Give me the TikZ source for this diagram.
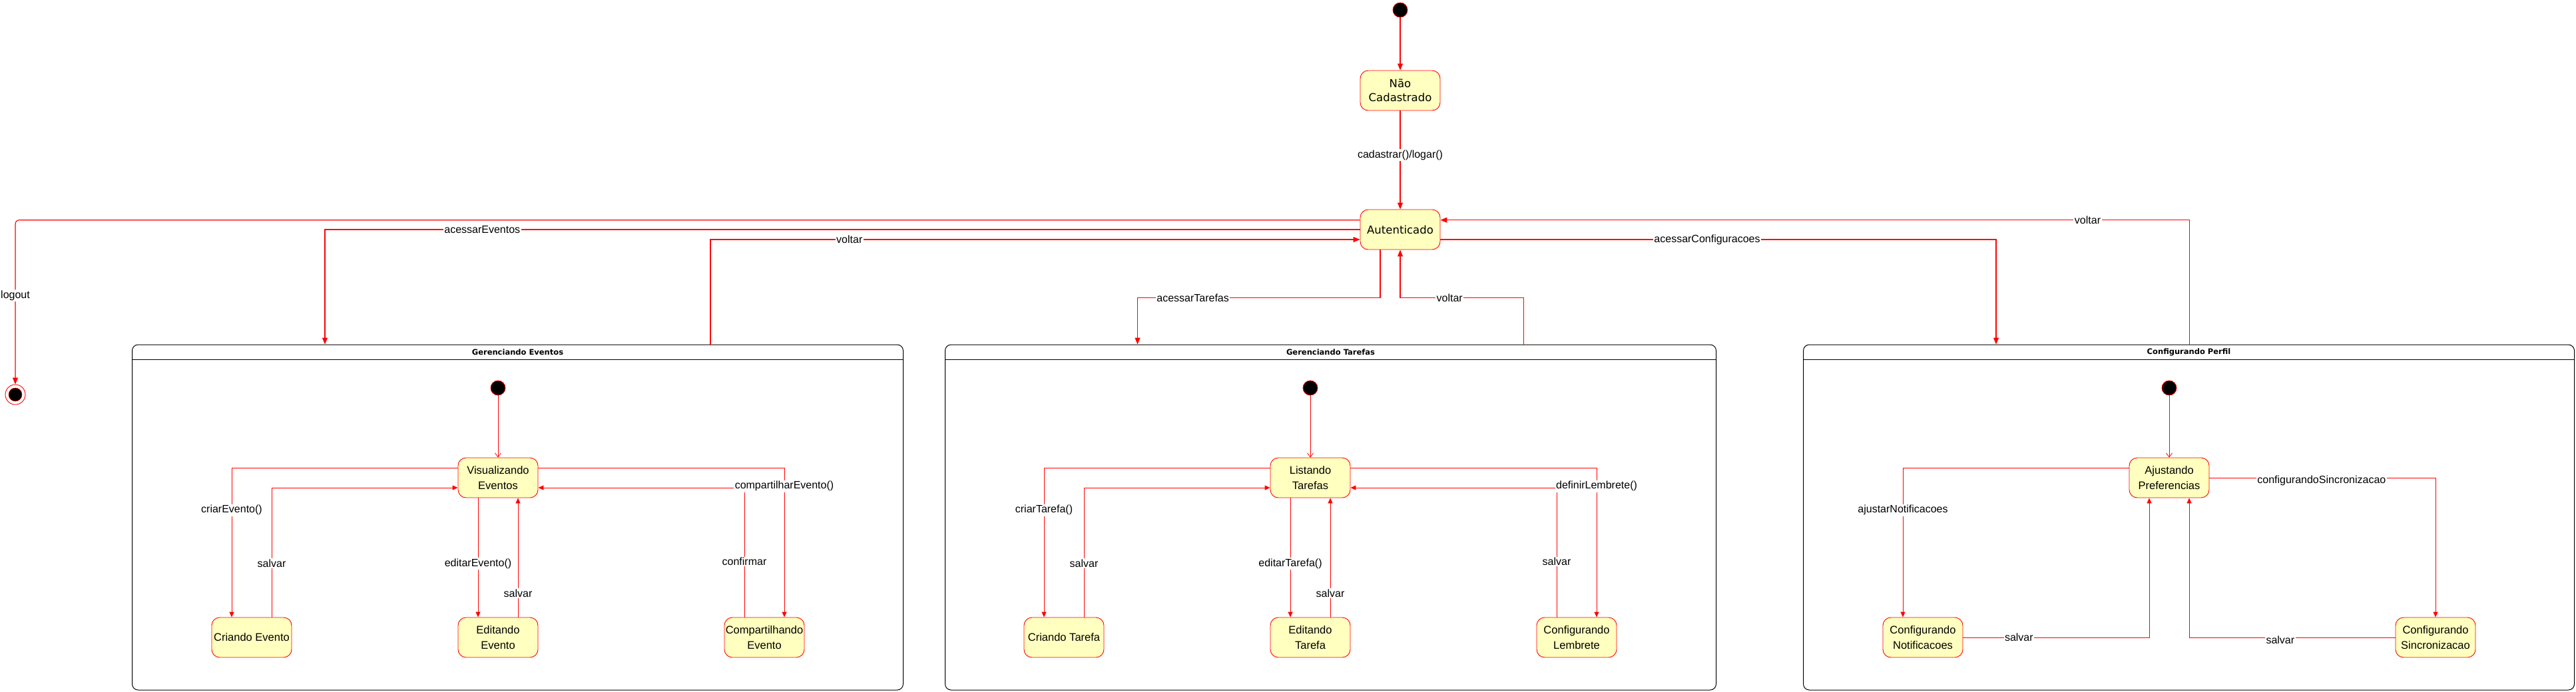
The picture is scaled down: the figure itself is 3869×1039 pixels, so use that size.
\documentclass[tikz,border=0pt]{standalone}
\usepackage{fontspec}
\usepackage{tikz}
\usetikzlibrary{arrows.meta, positioning}
\newfontfamily\arialfont{Liberation Sans}
\newfontfamily\verdfont{DejaVu Sans}
\definecolor{umlred}{HTML}{FF0000}
\definecolor{umlyellow}{HTML}{FFFFC0}

\begin{document}
\begin{tikzpicture}[
    x=1pt, y=-1pt,
    state/.style={rectangle, rounded corners=12pt, draw=umlred, fill=umlyellow, line width=0.9pt,
        minimum width=120pt, minimum height=60pt, inner sep=0pt, align=center,
        font=\arialfont\fontsize{16.5}{22.5}\selectfont},
    topstate/.style={state, font=\verdfont\fontsize{16.5}{21}\selectfont},
    startdot/.style={circle, fill=black, draw=umlred, line width=0.8pt, minimum size=22pt, inner sep=0pt},
    enddot/.style={circle, fill=white, draw=umlred, line width=0.9pt, minimum size=30pt, inner sep=0pt},
    region/.style={rectangle, draw=black, line width=1pt, rounded corners=9pt,
        minimum width=1158pt, minimum height=519pt, inner sep=0pt},
    lanetitle/.style={font=\verdfont\bfseries\fontsize{11.5}{14}\selectfont},
    trans/.style={draw=umlred, line width=1.1pt, -{Triangle[length=10pt, width=8pt]}},
    sub/.style={draw=umlred, line width=0.9pt, -{Triangle[length=8pt, width=7pt]}},
    boot/.style={draw=umlred, line width=0.8pt, -{Straight Barb[length=6pt, width=9pt]}},
    lbl/.style={fill=white, inner sep=1.5pt, font=\arialfont\fontsize{16}{19}\selectfont}
]
\useasboundingbox (0,0) rectangle (3869,1039);

% top level
\node [startdot] (ini) at (2103,15) {};
\node [topstate] (naocad) at (2103,136) {Não\\Cadastrado};
\node [topstate] (aut) at (2103,345) {Autenticado};
\node [enddot] (fin) at (23,593) {};
\filldraw [fill=black, draw=umlred, line width=0.5pt] (fin.center) circle (10pt);

% composite states
\node [region] (ev) at (777.5,777.5) {};
\node [region] (tk) at (1998.5,777.5) {};
\node [region] (cp) at (3287.5,777.5) {};
\foreach \p/\t in {ev/Gerenciando Eventos, tk/Gerenciando Tarefas, cp/Configurando Perfil} {
    \draw [line width=1pt] ([yshift=-23pt]\p.north west) -- ([yshift=-23pt]\p.north east);
    \node [lanetitle] at ([yshift=-11.5pt]\p.north) {\t};
}

\draw[trans] (ini) -- (naocad);
\draw[trans] (naocad) -- node [lbl, pos=0.45] {cadastrar()/logar()} (aut);
\draw[trans, rounded corners=6pt] ([yshift=14.3pt]aut.west) -| node [lbl, pos=0.73] {logout} (fin);
\draw[trans] (aut.west) -| node [lbl, pos=0.424] {acessarEventos} ([xshift=-289.5pt]ev.north);
\draw[trans] ([xshift=289.5pt]ev.north) |- node [lbl, pos=0.607] {voltar} ([yshift=-15pt]aut.west);
\draw[trans] ([xshift=-30pt]aut.south) -- ++(0,72) -| node [lbl, pos=0.386] {acessarTarefas} ([xshift=-290pt]tk.north);
\draw[trans] ([xshift=290pt]tk.north) |- node [lbl, pos=0.8] {voltar} ([yshift=-72pt]aut.south) -- (aut.south);
\draw[trans] ([yshift=-15pt]aut.east) -| node [lbl, pos=0.24] {acessarConfiguracoes} ([xshift=-289.5pt]cp.north);
\draw[trans] ([xshift=1pt]cp.north) |- node [lbl, pos=0.568] {voltar} ([yshift=14.3pt]aut.east);

% Gerenciando Eventos
\node [startdot] (ev0) at (748,583) {};
\node [state] (vis) at (748,718) {Visualizando\\Eventos};
\node [state] (cev) at (378,958) {Criando Evento};
\node [state] (eev) at (748,958) {Editando\\Evento};
\node [state] (sev) at (1148,958) {Compartilhando\\Evento};
\draw[boot] (ev0) -- (vis);
\draw[sub] ([yshift=15pt]vis.west) -| node [lbl, pos=0.642] {criarEvento()} ([xshift=-30pt]cev.north);
\draw[sub] ([xshift=30pt]cev.north) |- node [lbl, pos=0.208] {salvar} ([yshift=-15pt]vis.west);
\draw[sub] ([xshift=-30pt]vis.south) -- node [lbl, pos=0.55] {editarEvento()} ([xshift=-30pt]eev.north);
\draw[sub] ([xshift=30pt]eev.north) -- node [lbl, pos=0.2] {salvar} ([xshift=30pt]vis.south);
\draw[sub] ([xshift=-30pt]sev.north) |- node [lbl, pos=0.215] {confirmar} ([yshift=-15pt]vis.east);
\draw[sub] ([yshift=15pt]vis.east) -| node [lbl, pos=0.562] {compartilharEvento()} ([xshift=30pt]sev.north);

% Gerenciando Tarefas
\node [startdot] (tk0) at (1968,583) {};
\node [state] (lst) at (1968,718) {Listando\\Tarefas};
\node [state] (ctk) at (1598,958) {Criando Tarefa};
\node [state] (etk) at (1968,958) {Editando\\Tarefa};
\node [state] (lem) at (2368,958) {Configurando\\Lembrete};
\draw[boot] (tk0) -- (lst);
\draw[sub] ([yshift=15pt]lst.west) -| node [lbl, pos=0.642] {criarTarefa()} ([xshift=-30pt]ctk.north);
\draw[sub] ([xshift=30pt]ctk.north) |- node [lbl, pos=0.208] {salvar} ([yshift=-15pt]lst.west);
\draw[sub] ([xshift=-30pt]lst.south) -- node [lbl, pos=0.55] {editarTarefa()} ([xshift=-30pt]etk.north);
\draw[sub] ([xshift=30pt]etk.north) -- node [lbl, pos=0.2] {salvar} ([xshift=30pt]lst.south);
\draw[sub] ([xshift=-30pt]lem.north) |- node [lbl, pos=0.215] {salvar} ([yshift=-15pt]lst.east);
\draw[sub] ([yshift=15pt]lst.east) -| node [lbl, pos=0.562] {definirLembrete()} ([xshift=30pt]lem.north);

% Configurando Perfil
\node [startdot] (cp0) at (3258,583) {};
\node [state] (aju) at (3258,718) {Ajustando\\Preferencias};
\node [state] (cnot) at (2888,958) {Configurando\\Notificacoes};
\node [state] (csin) at (3658,958) {Configurando\\Sincronizacao};
\draw[boot] (cp0) -- (aju);
\draw[sub] ([yshift=15pt]aju.west) -| node [lbl, pos=0.642] {ajustarNotificacoes} ([xshift=-30pt]cnot.north);
\draw[sub] (aju.east) -| node [lbl, pos=0.248, yshift=-4pt] {configurandoSincronizacao} (csin.north);
\draw[sub] (cnot.east) -| node [lbl, pos=0.15] {salvar} ([xshift=-30pt]aju.south);
\draw[sub] (csin.west) -| node [lbl, pos=0.279, yshift=-4pt] {salvar} ([xshift=30pt]aju.south);
\end{tikzpicture}
\end{document}
